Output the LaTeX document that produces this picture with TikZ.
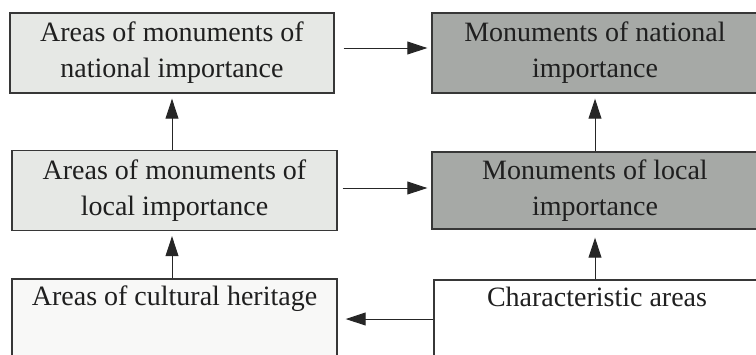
\documentclass[tikz,border=0pt]{standalone}
\usepackage{fontspec}
\setmainfont{Liberation Serif}
\usetikzlibrary{arrows.meta,calc}
\definecolor{lightbox}{RGB}{230,232,229}
\definecolor{darkbox}{RGB}{166,169,166}
\definecolor{edgecol}{RGB}{55,55,55}
\definecolor{palebox}{RGB}{248,248,247}
\begin{document}
\begin{tikzpicture}[x=1pt,y=-1pt,
 box/.style={draw=edgecol, line width=1.4pt, inner sep=0pt, align=center,
   font=\fontsize{28}{36}\selectfont, text=black!88, minimum height=80pt},
 arr/.style={draw=black!85, line width=1pt, -{Triangle[length=20pt,width=13pt]}}]
\useasboundingbox (0,0) rectangle (756,354);
\clip (0,0) rectangle (756,354);
\fill[white] (0,0) rectangle (756,354);
\node[box, fill=lightbox, minimum width=324pt] (A) at (172,53) {Areas of monuments of\\national importance};
\node[box, fill=darkbox, minimum width=326pt] (B) at (595,53) {Monuments of national\\importance};
\node[box, fill=lightbox, minimum width=325pt] (C) at (174.5,190.5) {Areas of monuments of\\local importance};
\node[box, fill=darkbox, minimum width=326pt, minimum height=77pt] (D) at (595,190.5) {Monuments of local\\importance};
\node[box, fill=palebox, minimum width=325pt] (E) at (174.5,319) {Areas of cultural heritage\\\strut};
\node[box, fill=white, minimum width=326pt] (F) at (597,320) {Characteristic areas\\\strut};
% horizontal arrows
\draw[arr, shorten <=9pt, shorten >=4pt] ([yshift=5pt]A.east) -- ([yshift=5pt]B.west);
\draw[arr, shorten <=5pt, shorten >=4pt] ([yshift=2.5pt]C.east) -- ([yshift=2.5pt]D.west);
\draw[arr, shorten >=8pt] (F.west |- E.east) -- (E.east);
% vertical arrows
\draw[arr, shorten >=5pt] (C.north -| A.south) -- (A.south);
\draw[arr, shorten >=5pt] (D.north) -- (B.south);
\draw[arr, shorten >=5pt] (E.north -| A.south) -- (C.south -| A.south);
\draw[arr, shorten >=8pt] (F.north -| D.south) -- (D.south);
\end{tikzpicture}
\end{document}
